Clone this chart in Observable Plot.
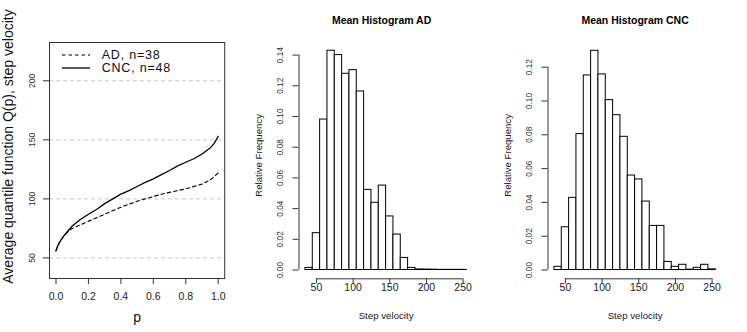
<!DOCTYPE html>
<html><head><meta charset="utf-8">
<script src="https://cdn.jsdelivr.net/npm/d3@7"></script>
<script src="https://cdn.jsdelivr.net/npm/@observablehq/plot@0.6"></script>
<style>
body{margin:0;background:#fff;}
#wrap{position:relative;width:747px;height:332px;font-family:"Liberation Sans",Arial,Helvetica,sans-serif;background:#fff;overflow:hidden;}
.panel{position:absolute;top:0;}
#legend{position:absolute;left:62px;top:48.5px;font-size:12.5px;letter-spacing:0.8px;color:#111;}
#legend .row{display:flex;align-items:center;height:13.3px;line-height:12px;white-space:nowrap;}
#legend svg{width:28px;height:10px;margin-right:11.7px;}
</style></head><body>
<div id="wrap">
 <div class="panel" id="p1" style="left:0"></div>
 <div class="panel" id="p2" style="left:249px"></div>
 <div class="panel" id="p3" style="left:498px"></div>
 <div id="legend"></div>
</div>
<script>
// ---- Left panel: average quantile functions ----
const pGrid = [0, 0.01, 0.025, 0.05, 0.075, 0.1, 0.15, 0.2, 0.25, 0.3, 0.35, 0.4, 0.45, 0.5, 0.55, 0.6, 0.65, 0.7, 0.75, 0.8, 0.85, 0.9, 0.95, 0.975, 1.0];
const qAD  = [56, 60, 64, 69, 72.5, 75, 78, 81, 84, 87, 90, 93, 95.5, 98, 100, 102, 104, 105.5, 107, 108.5, 110.5, 112.5, 116, 119, 122];
const qCNC = [56, 60, 64, 69, 73, 77, 82.5, 87, 91, 96, 100, 104, 107, 110.5, 114, 117, 120.5, 124, 128, 131, 134, 138, 143, 147, 153];
const seriesNames = ["AD, n=38", "CNC, n=48"];
const seriesDash = ["3.5,3", null];
const pTicks = [0, 0.2, 0.4, 0.6, 0.8, 1.0];
const qTicks = [50, 100, 150, 200];
const qLim = [40, 225];
const pLim = [0, 1];
const leftXLabel = "p";
const leftYLabel = "Average quantile function Q(p), step velocity";

// ---- Histograms ----
const breaks  = [35, 45, 55, 65, 75, 85, 95, 105, 115, 125, 135, 145, 155, 165, 175, 185, 195, 205, 215, 225, 235, 245, 255];
const freqAD  = [0.0014, 0.024, 0.098, 0.1428, 0.140, 0.1278, 0.1302, 0.1163, 0.0522, 0.0438, 0.055, 0.0349, 0.0231, 0.0079, 0.0014, 0.0004, 0.0003, 0.0002, 0.0001, 0.0001, 0.0001, 0.0001];
const freqCNC = [0.0019, 0.0253, 0.0427, 0.0804, 0.1151, 0.1297, 0.1157, 0.1005, 0.0916, 0.0788, 0.0559, 0.0536, 0.0405, 0.0261, 0.0261, 0.0048, 0.0019, 0.0031, 0.0002, 0.0013, 0.0031, 0.0004];
const histTitles = ["Mean Histogram AD", "Mean Histogram CNC"];
const histXTicks = [50, 100, 150, 200, 250];
const histYTicksAD  = [0, 0.02, 0.04, 0.06, 0.08, 0.10, 0.12, 0.14];
const histYTicksCNC = [0, 0.02, 0.04, 0.06, 0.08, 0.10, 0.12];
const histXLabel = "Step velocity";
const histYLabel = "Relative Frequency";

// R-style 4% axis expansion
const ext = ([a, b]) => [a - 0.04 * (b - a), b + 0.04 * (b - a)];
const FONT = "Liberation Sans, Arial, Helvetica, sans-serif";
const AX = "#333";

// Left panel
const curves = [];
pGrid.forEach((p, i) => {
  curves.push({p, q: qAD[i], s: seriesNames[0]});
  curves.push({p, q: qCNC[i], s: seriesNames[1]});
});
const left = Plot.plot({
  width: 249, height: 332,
  marginLeft: 49, marginRight: 24.8, marginTop: 42, marginBottom: 54,
  x: {domain: ext(pLim)},
  y: {domain: ext(qLim)},
  style: {fontFamily: FONT, background: "transparent", color: "#222", overflow: "visible"},
  marks: [
    Plot.ruleY(qTicks, {stroke: "#c8c8c8", strokeDasharray: "4,3", strokeWidth: 1}),
    Plot.line(curves.filter(d => d.s === seriesNames[0]), {x: "p", y: "q", stroke: "#000", strokeWidth: 1.1, strokeDasharray: seriesDash[0]}),
    Plot.line(curves.filter(d => d.s === seriesNames[1]), {x: "p", y: "q", stroke: "#000", strokeWidth: 1.3}),
    Plot.frame({stroke: AX}),
    Plot.axisY({ticks: qTicks, tickSize: 6, fill: "none", stroke: AX, label: null}),
    Plot.axisX({ticks: pTicks, tickSize: 6, fill: "none", stroke: AX, label: null}),
    Plot.text(qTicks, {y: d => d, frameAnchor: "left", dx: -17.3, rotate: -90, text: d => String(d), fontSize: 8.6, textAnchor: "middle", lineAnchor: "middle", fill: "#333"}),
    Plot.text(pTicks, {x: d => d, frameAnchor: "bottom", dy: 17.7, text: d => d3.format(".1f")(d), fontSize: 10.5, lineAnchor: "middle", fill: "#222"}),
    Plot.text([leftXLabel], {frameAnchor: "bottom", dy: 38.7, text: d => d, fontSize: 14, lineAnchor: "middle", fill: "#111"}),
    Plot.text([leftYLabel], {frameAnchor: "left", dx: -40.5, dy: -14, rotate: -90, text: d => d, fontSize: 14, textAnchor: "middle", lineAnchor: "middle", fill: "#111"})
  ]
});
document.getElementById("p1").append(left);

// Legend
const lg = document.getElementById("legend");
seriesNames.forEach((name, i) => {
  const row = document.createElement("div");
  row.className = "row";
  row.innerHTML = `<svg viewBox="0 0 28 10"><line x1="0" x2="28" y1="5" y2="5" stroke="#000" stroke-width="${i ? 1.3 : 1.1}" ${seriesDash[i] ? `stroke-dasharray="${seriesDash[i]}"` : ""}/></svg><span>${name}</span>`;
  lg.append(row);
});

function hist(freq, yTicks, title, titleDx) {
  const bins = freq.map((f, i) => ({x1: breaks[i], x2: breaks[i + 1], y: f}));
  const xDom = ext([breaks[0], breaks[breaks.length - 1]]);
  const yDom = ext([0, d3.max(freq)]);
  return Plot.plot({
    width: 249, height: 332,
    marginLeft: 49.5, marginRight: 25.3, marginTop: 41.5, marginBottom: 53.7,
    x: {domain: xDom},
    y: {domain: yDom},
    style: {fontFamily: FONT, background: "transparent", color: "#222", overflow: "visible"},
    marks: [
      Plot.rectY(bins, {x1: "x1", x2: "x2", y: "y", fill: "#fff", stroke: "#000", strokeWidth: 1}),
      Plot.ruleX([xDom[0]], {y1: yTicks[0], y2: yTicks[yTicks.length - 1], stroke: AX}),
      Plot.ruleY([yDom[0]], {x1: histXTicks[0], x2: histXTicks[histXTicks.length - 1], stroke: AX}),
      Plot.axisY({ticks: yTicks, tickSize: 6, fill: "none", stroke: AX, label: null}),
      Plot.axisX({ticks: histXTicks, tickSize: 5, fill: "none", stroke: AX, label: null}),
      Plot.text(yTicks, {y: d => d, frameAnchor: "left", dx: -19, rotate: -90, text: d => d3.format(".2f")(d), fontSize: 8.3, textAnchor: "middle", lineAnchor: "middle", fill: "#333"}),
      Plot.text(histXTicks, {x: d => d, frameAnchor: "bottom", dy: 8.7, text: d => String(d), fontSize: 10.5, lineAnchor: "middle", fill: "#222"}),
      Plot.text([histXLabel], {frameAnchor: "bottom", dy: 36.7, text: d => d, fontSize: 9.7, lineAnchor: "middle", fill: "#222"}),
      Plot.text([histYLabel], {frameAnchor: "left", dx: -40.5, dy: -5, rotate: -90, text: d => d, fontSize: 9.6, textAnchor: "middle", lineAnchor: "middle", fill: "#222"}),
      Plot.text([title], {frameAnchor: "top", dy: -21.5, dx: titleDx, text: d => d, fontSize: 10.5, fontWeight: "bold", lineAnchor: "middle", fill: "#000"})
    ]
  });
}
document.getElementById("p2").append(hist(freqAD, histYTicksAD, histTitles[0], -4.5));
document.getElementById("p3").append(hist(freqCNC, histYTicksCNC, histTitles[1], 0));
</script>
</body></html>
